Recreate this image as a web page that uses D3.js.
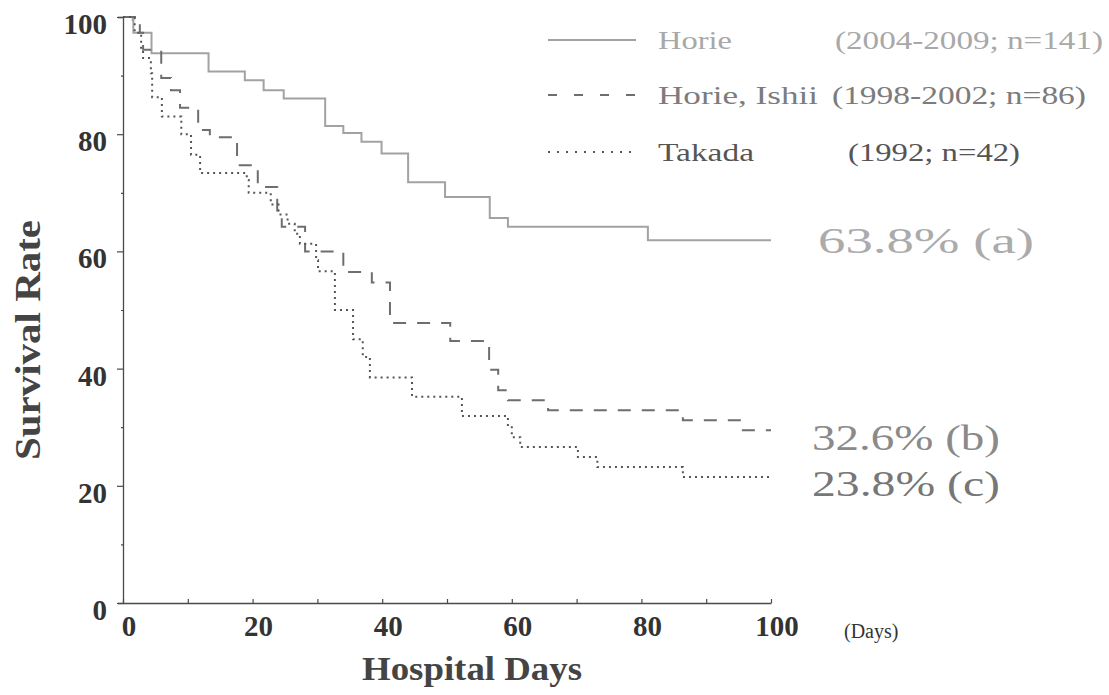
<!DOCTYPE html>
<html><head><meta charset="utf-8">
<script src="https://cdn.jsdelivr.net/npm/d3@7"></script>
<style>html,body{margin:0;padding:0;background:#fff;}svg{display:block;}</style>
</head><body>
<svg id="chart" width="1109" height="695"></svg>
<script>
// ---- data (day, survival %) ----
const horie = [[0,100],[1.5,99.4],[1.6,97.3],[4.4,93.8],[13.2,90.7],[18.8,89.2],[21.7,87.5],[24.8,86.1],[31.2,81.4],[34.0,80.2],[36.8,78.7],[39.9,76.7],[44.0,71.8],[49.7,69.3],[56.6,65.7],[59.4,64.2],[81.0,61.9],[100,61.9]];
const horieIshii = [[0,100],[2.6,97.3],[3.1,94.4],[5.9,89.6],[7.4,87.5],[8.8,84.5],[11.6,80.7],[13.4,79.5],[17.6,74.7],[20.8,71.0],[23.8,67.0],[24.5,64.2],[28.1,60.0],[34.0,56.5],[38.4,54.7],[41.2,47.8],[50.5,44.7],[56.5,39.8],[57.9,36.3],[59.4,34.6],[65.6,32.9],[86.4,31.2],[95.5,29.5],[100,29.5]];
const takada = [[0,100],[1.8,97.3],[2.8,94.4],[3.1,93.0],[4.3,90.4],[4.5,86.3],[6.0,83.0],[9.0,80.0],[10.5,76.5],[11.9,73.4],[19.1,72.2],[19.4,70.0],[22.8,68.0],[24.0,66.3],[25.4,64.7],[26.5,63.0],[27.3,61.3],[29.8,58.5],[30.1,56.6],[32.7,50.0],[35.5,45.0],[37.0,42.0],[38.1,38.5],[44.6,35.2],[52.3,31.9],[59.4,30.0],[60.0,28.3],[61.3,26.6],[70.2,24.9],[73.2,23.2],[86.4,21.5],[100,21.5]];
const seriesNames = ["Horie", "Horie, Ishii", "Takada"];
const seriesPeriods = ["(2004-2009; n=141)", "(1998-2002; n=86)", "(1992; n=42)"];
const finalLabels = ["63.8% (a)", "32.6% (b)", "23.8% (c)"];
const yTicks = [0, 20, 40, 60, 80, 100];
const xTicks = [0, 20, 40, 60, 80, 100];

// ---- layout ----
const svg = d3.select("#chart");
svg.append("rect").attr("width",1109).attr("height",695).attr("fill","#fff");
const x = d3.scaleLinear().domain([0,100]).range([123,771]);
const y = d3.scaleLinear().domain([0,100]).range([603,17]);
const serif = "'Liberation Serif','Times New Roman',serif";
const axisCol = "#4a4a4a";

// axes
const gy = svg.append("g").attr("transform","translate(123,0)")
  .call(d3.axisLeft(y).tickValues(d3.range(0,101,10)).tickSize(5).tickFormat(""));
gy.selectAll(".tick line").attr("x2", d => d % 20 === 0 ? -6 : -2);
const gx = svg.append("g").attr("transform","translate(0,603)")
  .call(d3.axisBottom(x).tickValues(d3.range(0,101,10)).tickSizeInner(-4).tickSizeOuter(0).tickFormat(""));
[gy,gx].forEach(g=>{
  g.selectAll("path").attr("stroke",axisCol).attr("stroke-width",1.3);
  g.selectAll("line").attr("stroke",axisCol).attr("stroke-width",1.2);
});

// tick labels
svg.append("g").selectAll("text").data(yTicks).join("text")
  .attr("x",107).attr("y",d=>y(d)+17).attr("text-anchor","end")
  .attr("font-family",serif).attr("font-weight","bold").attr("font-size",29).attr("fill","#333")
  .text(d=>d);
svg.append("g").selectAll("text").data(xTicks).join("text")
  .attr("x",d=>x(d)+6).attr("y",636).attr("text-anchor","middle")
  .attr("font-family",serif).attr("font-weight","bold").attr("font-size",29).attr("fill","#333")
  .text(d=>d);
svg.append("text").attr("x",844).attr("y",638).attr("font-family",serif).attr("font-size",20).attr("fill","#333").text("(Days)");

// axis titles
svg.append("text").attr("x",472).attr("y",680).attr("text-anchor","middle")
  .attr("font-family",serif).attr("font-weight","bold").attr("font-size",34).attr("fill","#444")
  .attr("textLength",220).attr("lengthAdjust","spacingAndGlyphs").text("Hospital Days");
svg.append("text").attr("transform","translate(40,340) rotate(-90)").attr("text-anchor","middle")
  .attr("font-family",serif).attr("font-weight","bold").attr("font-size",36).attr("fill","#444")
  .attr("textLength",240).attr("lengthAdjust","spacingAndGlyphs").text("Survival Rate");

// curves
const styles = [
  {data:horie, color:"#a2a2a2", dash:null, legDash:null},
  {data:horieIshii, color:"#6e6e6e", dash:"13,11", legDash:"9,17"},
  {data:takada, color:"#555", dash:"2,4", legDash:"2,7"}
];
const line = d3.line().x(d=>x(d[0])).y(d=>y(d[1])).curve(d3.curveStepAfter);
styles.forEach(s=>{
  svg.append("path").datum(s.data).attr("d",line).attr("fill","none")
    .attr("stroke",s.color).attr("stroke-width",2).attr("stroke-dasharray",s.dash);
});

// legend
const legY = [40, 95, 152];
const textCols = ["#a8a8a8", "#7c7c7c", "#555"];
const nameLen = [74, 160, 96];
const periodX = [835, 832, 848];
const periodLen = [268, 254, 172];
styles.forEach((s,i)=>{
  svg.append("line").attr("x1",548).attr("x2",636).attr("y1",legY[i]).attr("y2",legY[i])
    .attr("stroke",s.color).attr("stroke-width",2).attr("stroke-dasharray",s.legDash);
  svg.append("text").attr("x",658).attr("y",legY[i]+9).attr("font-family",serif).attr("font-size",26)
    .attr("fill",textCols[i]).attr("textLength",nameLen[i]).attr("lengthAdjust","spacingAndGlyphs").text(seriesNames[i]);
  svg.append("text").attr("x",periodX[i]).attr("y",legY[i]+9).attr("font-family",serif).attr("font-size",25)
    .attr("fill",textCols[i]).attr("textLength",periodLen[i]).attr("lengthAdjust","spacingAndGlyphs").text(seriesPeriods[i]);
});

// final survival labels
const finY = [253, 450, 496];
const finX = [818, 812, 812];
const finLen = [216, 188, 188];
const finCol = ["#ababab", "#8a8a8a", "#777"];
finalLabels.forEach((t,i)=>{
  svg.append("text").attr("x",finX[i]).attr("y",finY[i]).attr("font-family",serif).attr("font-size",35)
    .attr("fill",finCol[i]).attr("textLength",finLen[i]).attr("lengthAdjust","spacingAndGlyphs").text(t);
});
</script>
</body></html>
